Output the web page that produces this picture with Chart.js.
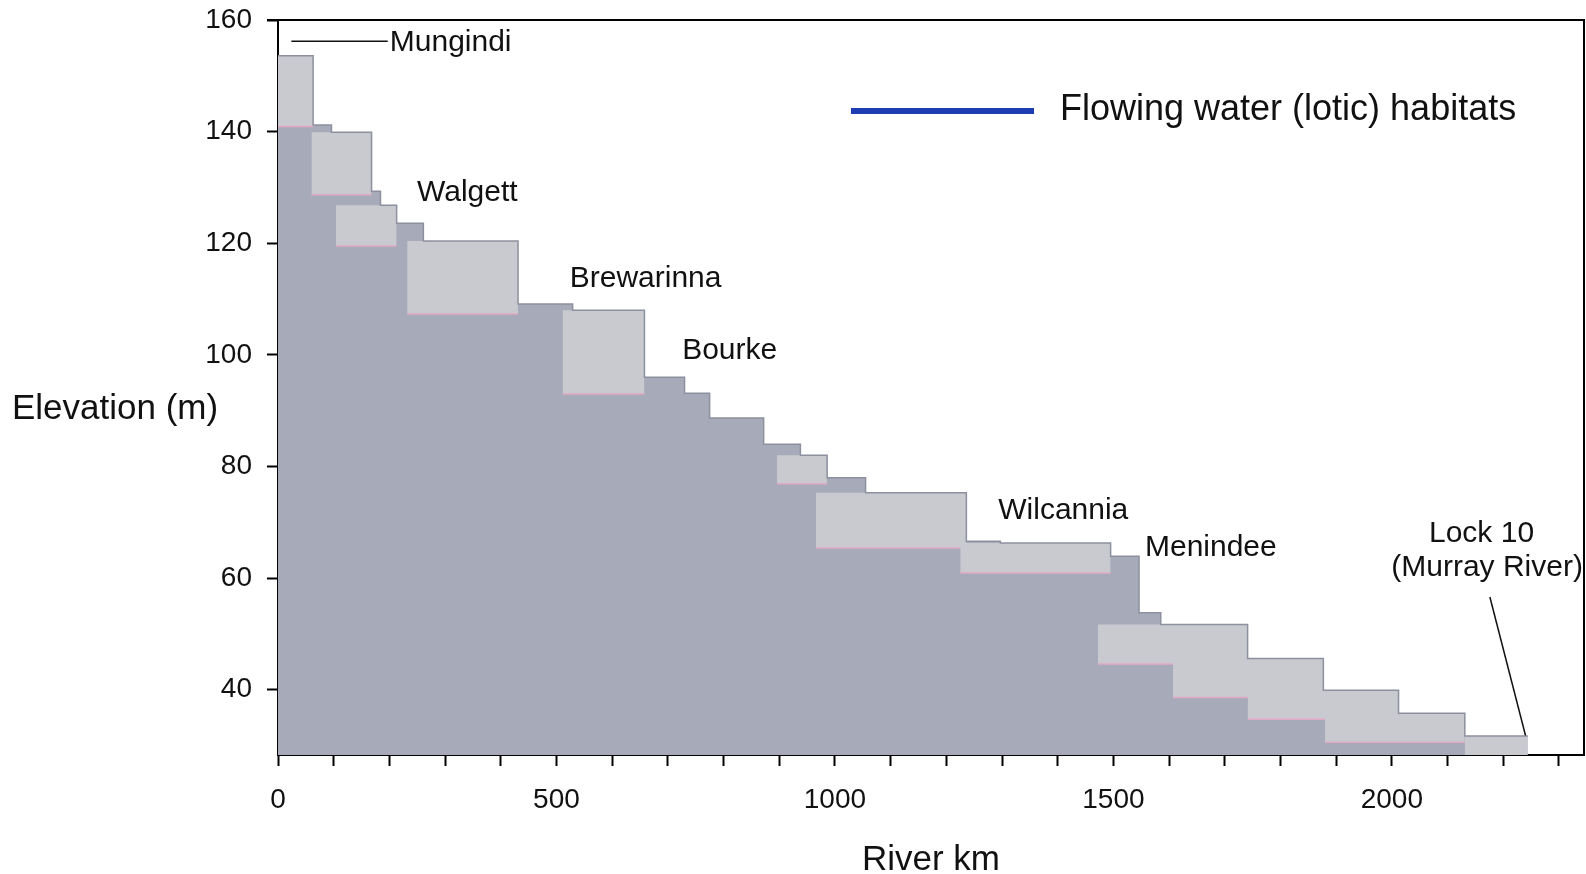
<!DOCTYPE html>
<html>
<head>
<meta charset="utf-8">
<title>Darling River profile</title>
<script src="https://cdn.jsdelivr.net/npm/chart.js@4.4.1/dist/chart.umd.min.js"></script>
<style>
  html, body { margin: 0; padding: 0; background: #fff; }
  canvas { display: block; }
</style>
</head>
<body>
<canvas id="profile" width="1586" height="874"></canvas>
<script>
// Water surface envelope: elevation (m) holding from each river km onward
var profileKm   = [0, 63, 96, 168, 184, 213, 261, 431, 529, 658, 730, 775, 872, 938, 986, 1055, 1236, 1297, 1495, 1546, 1585, 1741, 1877, 2012, 2131, 2244];
var profileElev = [153.6, 141.2, 139.9, 129.3, 126.8, 123.6, 120.4, 109.1, 108.0, 96.0, 93.1, 88.7, 84.0, 82.0, 78.0, 75.3, 66.6, 66.3, 63.9, 53.8, 51.7, 45.6, 39.9, 35.8, 31.7, 31.7];

// Weir pools (lighter boxes)
var poolStart  = [0, 60, 104, 232, 511, 896, 966, 1225, 1472, 1607, 1741, 1880, 2131];
var poolEnd    = [63, 168, 213, 431, 658, 986, 1236, 1495, 1741, 1877, 2012, 2131, 2244];
var poolBottom = [140.9, 128.7, 119.5, 107.3, 93.0, 76.9, 65.4, 60.9, 44.6, 38.6, 34.7, 30.6, 28.3];
var poolTop    = [153.6, 139.9, 126.8, 120.4, 108.0, 82.0, 75.3, 66.3, 51.7, 45.6, 39.9, 35.8, 31.7];

// Town labels
var townNames = ["Mungindi", "Walgett", "Brewarinna", "Bourke", "Wilcannia", "Menindee", "Lock 10", "(Murray River)"];
var townKm    = [310, 340, 660, 811, 1410, 1675, 2161, 2171];
var townElev  = [156.0, 129.1, 113.7, 100.7, 72.0, 65.5, 67.9, 61.9];

// Leader lines
var mungindiLineKm = [24, 197];
var mungindiLineElev = [156.2, 156.2];
var lockLineKm = [2176, 2240];
var lockLineElev = [56.6, 31.8];

// Axis ticks
var xTicks = [0, 100, 200, 300, 400, 500, 600, 700, 800, 900, 1000, 1100, 1200, 1300, 1400, 1500, 1600, 1700, 1800, 1900, 2000, 2100, 2200, 2300];
var xLabelTicks = [0, 500, 1000, 1500, 2000];
var yTicks = [40, 60, 80, 100, 120, 140, 160];

var yMin = 28.3, yMax = 160, xMin = 0, xMax = 2345;
var fontFamily = "'Liberation Sans', Arial, sans-serif";

var darkGrey = "#a7abb9";
var lightGrey = "#c8cad0";

function pts(xs, ys) {
  return xs.map(function (x, i) { return { x: x, y: ys[i] }; });
}

var datasets = [];

datasets.push({
  label: "profile",
  data: pts(profileKm, profileElev),
  stepped: true,
  fill: "start",
  backgroundColor: darkGrey,
  borderWidth: 0,
  pointRadius: 0,
  order: 100
});

poolStart.forEach(function (s, i) {
  datasets.push({
    label: "pool " + (i + 1),
    data: pts([s, poolEnd[i]], [poolBottom[i], poolBottom[i]]),
    fill: { value: poolTop[i] },
    backgroundColor: lightGrey,
    borderColor: poolBottom[i] > yMin ? "#e2a9c6" : "rgba(0,0,0,0)",
    borderWidth: 1.5,
    pointRadius: 0,
    order: 50 - i
  });
});

datasets.push({
  label: "profile edge",
  data: pts(profileKm, profileElev),
  stepped: true,
  fill: false,
  borderColor: "#8d909e",
  borderWidth: 1.5,
  pointRadius: 0,
  order: 2
});

datasets.push({
  label: "Mungindi line",
  data: pts(mungindiLineKm, mungindiLineElev),
  fill: false,
  borderColor: "#111",
  borderWidth: 1.5,
  pointRadius: 0,
  order: 1
});

datasets.push({
  label: "Lock 10 line",
  data: pts(lockLineKm, lockLineElev),
  fill: false,
  borderColor: "#111",
  borderWidth: 1.5,
  pointRadius: 0,
  order: 1
});

// frame, y title, legend and town labels
var decorations = {
  id: "decorations",
  afterDraw: function (chart) {
    var ctx = chart.ctx;
    var area = chart.chartArea;
    var x = chart.scales.x, y = chart.scales.y;
    ctx.save();

    // top and right frame lines
    ctx.strokeStyle = "#000";
    ctx.lineWidth = 2;
    ctx.beginPath();
    ctx.moveTo(area.left - 11, area.top);
    ctx.lineTo(area.right, area.top);
    ctx.lineTo(area.right, area.bottom);
    ctx.stroke();

    // y axis title, written horizontally
    ctx.fillStyle = "#111";
    ctx.textBaseline = "middle";
    ctx.textAlign = "left";
    ctx.font = "35px " + fontFamily;
    ctx.fillText("Elevation (m)", 12, 409);

    // legend
    ctx.strokeStyle = "#1d3db2";
    ctx.lineWidth = 6;
    ctx.beginPath();
    ctx.moveTo(851, 111);
    ctx.lineTo(1034, 111);
    ctx.stroke();
    ctx.font = "36px " + fontFamily;
    ctx.fillText("Flowing water (lotic) habitats", 1060, 110);

    // towns
    ctx.textAlign = "center";
    ctx.font = "30px " + fontFamily;
    townNames.forEach(function (name, i) {
      ctx.fillText(name, x.getPixelForValue(townKm[i]), y.getPixelForValue(townElev[i]));
    });
    ctx.restore();
  }
};

var tickFont = { family: fontFamily, size: 28 };

new Chart(document.getElementById("profile"), {
  type: "line",
  data: { datasets: datasets },
  options: {
    responsive: false,
    animation: false,
    layout: { padding: { left: 0, top: 20, right: 2, bottom: 0 } },
    plugins: {
      legend: { display: false },
      tooltip: { enabled: false }
    },
    scales: {
      x: {
        type: "linear",
        min: xMin,
        max: xMax,
        afterBuildTicks: function (axis) {
          axis.ticks = xTicks.map(function (v) { return { value: v }; });
        },
        afterFit: function (scale) {
          scale.height = 119;
          scale.paddingLeft = 0;
          scale.paddingRight = 0;
        },
        ticks: {
          autoSkip: false,
          maxRotation: 0,
          color: "#111",
          font: tickFont,
          padding: 17,
          callback: function (v) { return xLabelTicks.indexOf(v) >= 0 ? String(v) : ""; }
        },
        grid: { drawOnChartArea: false, tickLength: 11, tickWidth: 2, tickColor: "#000" },
        border: { color: "#000", width: 2 },
        title: {
          display: true,
          text: "River km",
          color: "#111",
          font: { family: fontFamily, size: 35, lineHeight: 1 },
          padding: { top: 0, bottom: -4 }
        }
      },
      y: {
        type: "linear",
        min: yMin,
        max: yMax,
        afterBuildTicks: function (axis) {
          axis.ticks = yTicks.map(function (v) { return { value: v }; });
        },
        afterFit: function (scale) {
          scale.width = 278;
          scale.paddingTop = 0;
          scale.paddingBottom = 0;
        },
        ticks: { color: "#111", font: tickFont, padding: 15 },
        grid: { drawOnChartArea: false, tickLength: 11, tickWidth: 2, tickColor: "#000" },
        border: { color: "#000", width: 2 }
      }
    }
  },
  plugins: [decorations]
});
</script>
</body>
</html>
